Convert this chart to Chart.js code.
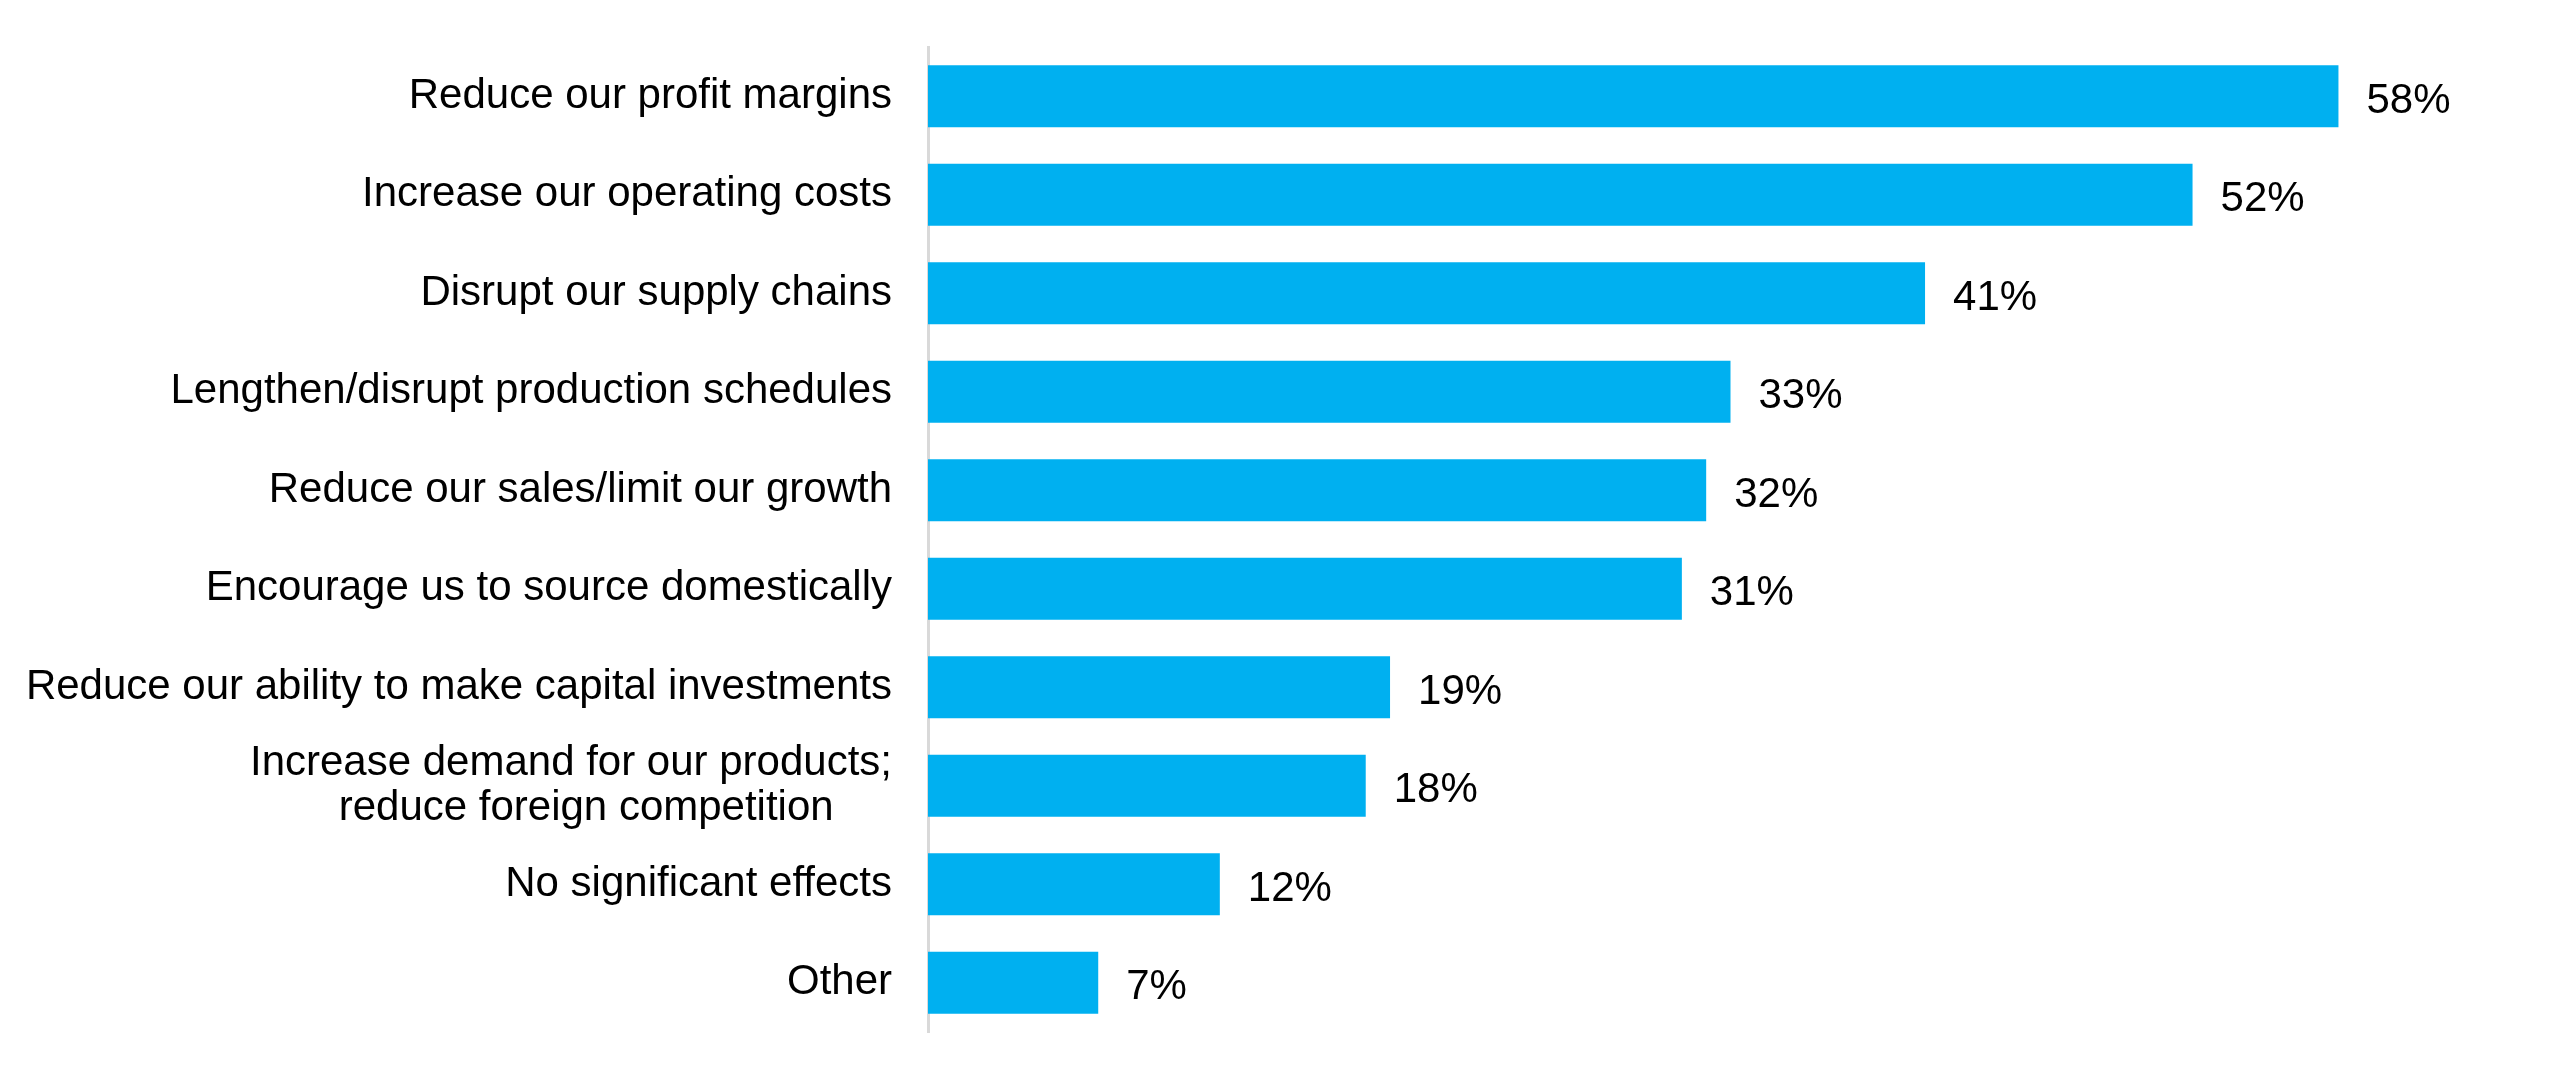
<!DOCTYPE html>
<html>
<head>
<meta charset="utf-8">
<script src="https://cdn.jsdelivr.net/npm/chart.js@4.4.1/dist/chart.umd.min.js"></script>
<style>
  html, body { margin: 0; padding: 0; background: #fff; }
  #wrap { width: 2560px; height: 1079px; }
</style>
</head>
<body>
<div id="wrap"><canvas id="chart"></canvas></div>
<script>
// Survey answers, top to bottom
const categories = [
  "Reduce our profit margins",
  "Increase our operating costs",
  "Disrupt our supply chains",
  "Lengthen/disrupt production schedules",
  "Reduce our sales/limit our growth",
  "Encourage us to source domestically",
  "Reduce our ability to make capital investments",
  ["Increase demand for our products;", "reduce foreign competition\u00a0\u00a0\u00a0\u00a0\u00a0"],
  "No significant effects",
  "Other"
];
const shares = [58, 52, 41, 33, 32, 31, 19, 18, 12, 7];

const FONT = "'Liberation Sans', Arial, Helvetica, sans-serif";

// draws the "58%" style labels at the end of each bar
const valueLabels = {
  id: "valueLabels",
  afterDatasetsDraw(chart) {
    const ctx = chart.ctx;
    const meta = chart.getDatasetMeta(0);
    ctx.save();
    ctx.font = "42px " + FONT;
    ctx.fillStyle = "#000";
    ctx.textAlign = "left";
    ctx.textBaseline = "middle";
    meta.data.forEach((bar, i) => {
      ctx.fillText(shares[i] + "%", bar.x + 28, bar.y + 5);
    });
    ctx.restore();
  }
};

new Chart(document.getElementById("chart"), {
  type: "bar",
  data: {
    labels: categories,
    datasets: [{
      data: shares,
      backgroundColor: "#00B0F0",
      borderWidth: 0,
      categoryPercentage: 1,
      barPercentage: 0.63
    }]
  },
  options: {
    indexAxis: "y",
    responsive: true,
    maintainAspectRatio: false,
    animation: false,
    layout: { padding: { top: 47, bottom: 47, left: 0, right: 27 } },
    plugins: {
      legend: { display: false },
      tooltip: { enabled: false }
    },
    scales: {
      x: {
        display: false,
        min: 0,
        max: 66
      },
      y: {
        grid: { display: false, drawTicks: false },
        border: { display: true, color: "#D9D9D9", width: 3 },
        ticks: {
          color: "#000",
          padding: 36,
          font: { family: FONT, size: 42, lineHeight: 1.08 }
        },
        afterFit(scale) {
          scale.width = 928;
          // keep label half-heights from pushing the plot area in
          scale.paddingTop = 0;
          scale.paddingBottom = 0;
        }
      }
    }
  },
  plugins: [valueLabels]
});
</script>
</body>
</html>
